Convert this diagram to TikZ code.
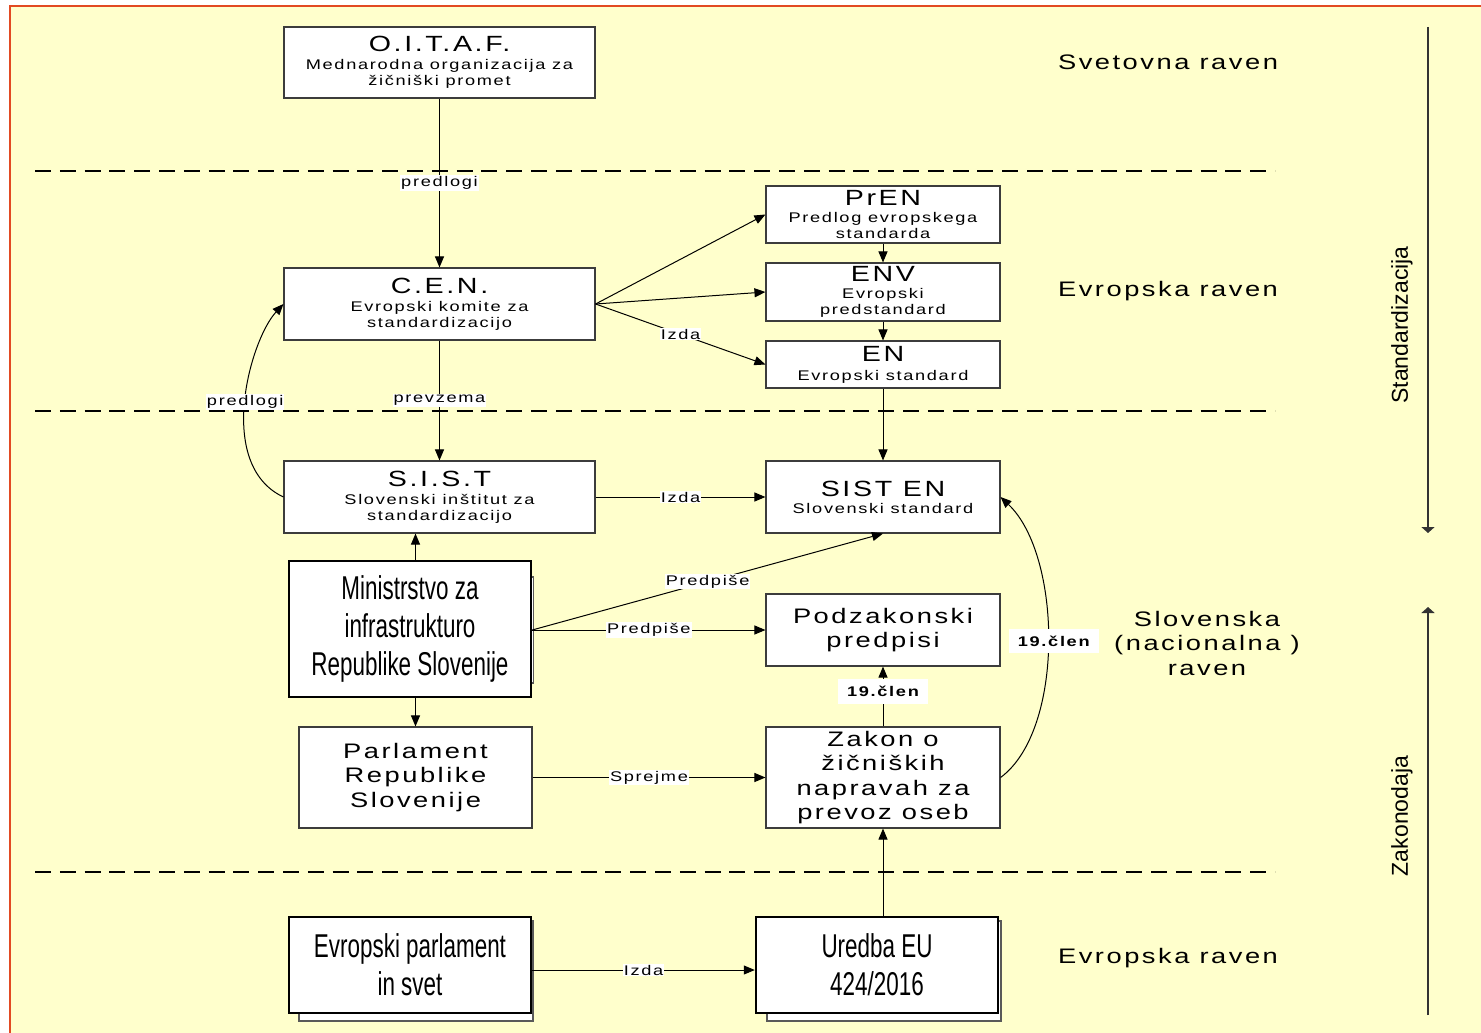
\documentclass[tikz,border=0pt]{standalone}
\usepackage{fontspec}
\setmainfont{Liberation Sans}[FakeStretch=1.3, LetterSpace=12]
\newfontfamily\condfont{Liberation Sans}[FakeStretch=0.68]
\newfontfamily\plainfont{Liberation Sans}
\usetikzlibrary{arrows.meta}
\newcommand\fsz[2]{\fontsize{#1}{#2}\selectfont}
\newcommand\ttl[1]{{\fsz{22}{22}#1}}
\definecolor{bgyellow}{RGB}{255,255,204}
\definecolor{borderred}{RGB}{226,74,34}
\definecolor{boxline}{RGB}{60,60,60}
\begin{document}
\begin{tikzpicture}[x=1pt,y=-1pt,
  box/.style={draw=boxline, fill=white, line width=1.1pt, inner sep=0pt, align=center, font=\fsz{14}{16}, anchor=center},
  bigbox/.style={box, font=\fsz{21}{24.5}},
  thickbox/.style={draw=black, fill=white, line width=2.4pt, inner sep=0pt, align=center, font=\condfont\fsz{33}{38}},
  shadowbox/.style={draw=black!65, fill=white, line width=1.2pt},
  conn/.style={draw=black, line width=1pt, -{Triangle[length=11pt,width=9pt]}},
  lbl/.style={fill=white, inner sep=1pt, font=\fsz{14}{16}},
  lblb/.style={fill=white, inner xsep=9pt, inner ysep=7pt, font=\bfseries\fsz{14}{16}},
  sep/.style={line width=2.6pt, dash pattern=on 16pt off 8.8pt},
  side/.style={draw=black!80, line width=1.6pt, -{Triangle[length=6pt,width=13pt]}},
  rlbl/.style={font=\fsz{21}{24.5}, align=center},
  vlbl/.style={font=\plainfont\fsz{23}{23}, rotate=90}
]
\useasboundingbox (0,0) rectangle (1481,1033);
\fill[white] (0,0) rectangle (1481,1033);
\fill[bgyellow] (9,5) rectangle (1481,1033);
\draw[borderred, line width=2.6pt] (10,1033) -- (10,6) -- (1481,6);

\foreach \yy in {171,411,872} \draw[sep] (35,\yy) -- (1275,\yy);

\draw[shadowbox] (300,577) rectangle (533.5,683);
\draw[shadowbox] (299,921) rectangle (533,1021);
\draw[shadowbox] (767,921) rectangle (1001,1021);

\node[box, minimum width=311pt, minimum height=71pt] (oitaf) at (439.5,62.5) {\ttl{O.I.T.A.F.}\\[2pt]Mednarodna organizacija za\\žičniški promet};
\node[box, minimum width=311pt, minimum height=72pt] (cen) at (439.5,304) {\ttl{C.E.N.}\\[2pt]Evropski komite za\\standardizacijo};
\node[box, minimum width=234pt, minimum height=57pt] (pren) at (883,214.5) {\ttl{PrEN}\\[1pt]Predlog evropskega\\standarda};
\node[box, minimum width=234pt, minimum height=58pt] (env) at (883,292) {\ttl{ENV}\\[1pt]Evropski\\predstandard};
\node[box, minimum width=234pt, minimum height=47pt] (en) at (883,364.5) {\ttl{EN}\\[3pt]Evropski standard};
\node[box, minimum width=311pt, minimum height=72pt] (sist) at (439.5,497) {\ttl{S.I.S.T}\\[2pt]Slovenski inštitut za\\standardizacijo};
\node[box, minimum width=234pt, minimum height=72pt] (sisten) at (883,497) {\ttl{SIST EN}\\[1pt]Slovenski standard};
\node[thickbox, minimum width=242pt, minimum height=136pt] (mini) at (410,629) {Ministrstvo za\\infrastrukturo\\Republike Slovenije};
\node[bigbox, minimum width=234pt, minimum height=72pt] (pod) at (883,630) {Podzakonski\\predpisi};
\node[bigbox, minimum width=233pt, minimum height=101pt] (par) at (415.5,777.5) {Parlament\\Republike\\Slovenije};
\node[bigbox, minimum width=234pt, minimum height=101pt] (zak) at (883,777.5) {Zakon o\\žičniških\\napravah za\\prevoz oseb};
\node[thickbox, minimum width=242pt, minimum height=96pt] (ep) at (410,965) {Evropski parlament\\in svet};
\node[thickbox, minimum width=242pt, minimum height=96pt] (ur) at (877,965) {Uredba EU\\424/2016};

\node[rlbl] (svet) at (1168,62) {Svetovna raven};
\node[rlbl] (evr1) at (1168,291) {Evropska raven};
\node[rlbl] (slo) at (1207,643) {Slovenska\\(nacionalna )\\raven};
\node[rlbl] (evr2) at (1168,958) {Evropska raven};

\coordinate (s1) at (1428,27);
\coordinate (s2) at (1428,533);
\coordinate (z1) at (1428,1015);
\coordinate (z2) at (1428,607);
\draw[side] (s1) -- (s2);
\draw[side] (z1) -- (z2);
\node[vlbl] (stdlbl) at (1402,325) {Standardizacija};
\node[vlbl] (zaklbl) at (1402,816) {Zakonodaja};

\draw[conn] (oitaf) -- node[lbl]{predlogi} (cen);
\draw[conn] (cen) -- node[lbl]{prevzema} (sist);
\draw[conn] (cen.east) -- (pren.west);
\draw[conn] (cen.east) -- (env.west);
\draw[conn] (cen.east) -- node[lbl]{Izda} (en.west);
\draw[conn] (pren) -- (env);
\draw[conn] (env) -- (en);
\draw[conn] (en) -- (sisten);
\draw[conn] (sist) -- node[lbl]{Izda} (sisten);
\draw[conn] (sist.west) .. controls (215,465) and (250,340) .. node[lbl]{predlogi} (cen.west);
\draw[conn] (mini.north -| par.north) -- (sist.south -| par.north);
\draw[conn] (mini.south -| par.north) -- (par.north);
\draw[conn] (mini.east |- pod.west) -- node[lbl]{Predpiše} (pod.west);
\draw[conn] (mini.east |- pod.west) -- node[lbl]{Predpiše} (sisten.south);
\draw[conn] (par) -- node[lbl]{Sprejme} (zak);
\draw[conn] (zak) -- node[lblb, pos=0.58]{19.člen} (pod);
\draw[conn] (zak.east) .. controls (1065,730) and (1062,555) .. node[lblb, xshift=6pt]{19.člen} (sisten.east);
\draw[conn] (ur.north -| zak.south) -- (zak.south);
\draw[conn] ([yshift=-5pt]ep.east) -- node[lbl]{Izda} ([yshift=-5pt]ur.west);
\end{tikzpicture}
\end{document}
